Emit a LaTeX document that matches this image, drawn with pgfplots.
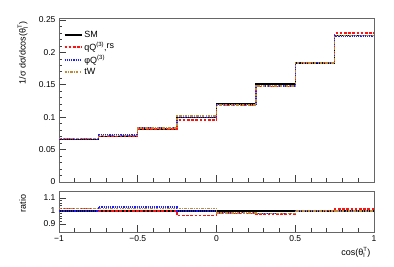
\documentclass[border=0pt]{standalone}
\usepackage{fontspec}
\setmainfont{Liberation Sans}
\usepackage{amsmath}
\usepackage{pgfplots}
\pgfplotsset{compat=1.18}

\definecolor{twcol}{RGB}{190,140,60}
\definecolor{qqcol}{RGB}{250,20,20}
\definecolor{pqcol}{RGB}{30,30,250}

\pgfplotsset{
  rootpad/.style={
    scale only axis, width=315pt,
    xmin=-1, xmax=1,
    axis line style={draw=black!60, line width=0.9pt},
    tick style={black!75, line width=0.6pt},
    tick align=inside,
    xtick pos=bottom, ytick pos=left,
    xtick={-1,-0.5,0,0.5,1},
    minor x tick num=4,
    major tick length=7pt, minor tick length=3.5pt,
    every tick label/.append style={font=\fontsize{8.5}{10}\selectfont},
    label style={font=\fontsize{9}{10}\selectfont},
  },
  histSM/.style={color=black, line width=1.5pt, solid, const plot mark left},
  histQQ/.style={color=qqcol, line width=1.5pt, dash pattern=on 2.6pt off 1.6pt, const plot mark left},
  histPQ/.style={color=pqcol, line width=1.5pt, dash pattern=on 1.2pt off 1pt, const plot mark left},
  histTW/.style={color=twcol, line width=1.5pt, dash pattern=on 2.5pt off 1.2pt on 0.8pt off 1.2pt, const plot mark left},
}

\begin{document}
\begin{tikzpicture}
\useasboundingbox (-59pt,-85pt) rectangle (335pt,182pt);

% upper pad: normalised distribution
\begin{axis}[rootpad,
  at={(0pt,0pt)}, anchor=south west,
  height=164pt,
  ymin=0, ymax=0.253,
  ytick={0,0.05,0.1,0.15,0.2,0.25},
  yticklabels={0,0.05,0.1,0.15,0.2,0.25},
  minor y tick num=4,
  xticklabels={},
  ylabel={1/σ dσ/dcos(θ$^{\text{T}}_{\text{l}}$)},
  ylabel style={at={(axis description cs:-0.115,1)}, anchor=east},
  legend style={draw=none, fill=none, at={(axis description cs:0.005,0.945)},
    anchor=north west, font=\fontsize{9}{10}\selectfont, row sep=-0.8pt},
  legend cell align=left,
]
\addplot[histSM] coordinates {
  (-1,0.0655) (-0.75,0.0705) (-0.5,0.0815) (-0.25,0.0995)
  (0,0.1205) (0.25,0.1510) (0.5,0.1835) (0.75,0.2260) (1,0.2260)};
\addlegendentry{SM}
\addplot[histQQ] coordinates {
  (-1,0.0668) (-0.75,0.0705) (-0.5,0.0815) (-0.25,0.0960)
  (0,0.1183) (0.25,0.1477) (0.5,0.1844) (0.75,0.2298) (1,0.2298)};
\addlegendentry{\textcolor{black}{qQ$^{\text{(3)}}$,\raisebox{2pt}{rs}}}
\addplot[histPQ] coordinates {
  (-1,0.0655) (-0.75,0.0726) (-0.5,0.0839) (-0.25,0.0995)
  (0,0.1193) (0.25,0.1480) (0.5,0.1844) (0.75,0.2249) (1,0.2249)};
\addlegendentry{\textcolor{black}{φQ$^{\text{(3)}}$}}
\addplot[histTW] coordinates {
  (-1,0.0668) (-0.75,0.0719) (-0.5,0.0831) (-0.25,0.1015)
  (0,0.1187) (0.25,0.1480) (0.5,0.1835) (0.75,0.2260) (1,0.2260)};
\addlegendentry{\textcolor{black}{tW}}
\end{axis}

% lower pad: ratio to SM
\begin{axis}[rootpad,
  at={(0pt,-50pt)}, anchor=south west,
  height=41pt,
  ymin=0.838, ymax=1.154,
  ytick={0.9,1,1.1},
  yticklabels={0.9,1,1.1},
  minor y tick num=4,
  xticklabels={−1,−0.5,0,0.5,1},
  xlabel={cos(θ$^{\text{T}}_{\text{l}}$)},
  xlabel style={at={(axis description cs:1,0)}, anchor=north east, yshift=-12pt},
  ylabel={ratio},
  ylabel style={at={(axis description cs:-0.115,1)}, anchor=east},
]
\addplot[histSM] coordinates {(-1,1) (1,1)};
\addplot[histQQ] coordinates {
  (-1,1.020) (-0.75,1.000) (-0.5,1.000) (-0.25,0.965)
  (0,0.982) (0.25,0.978) (0.5,1.005) (0.75,1.017) (1,1.017)};
\addplot[histPQ] coordinates {
  (-1,1.000) (-0.75,1.030) (-0.5,1.030) (-0.25,1.000)
  (0,0.990) (0.25,0.980) (0.5,1.005) (0.75,0.995) (1,0.995)};
\addplot[histTW] coordinates {
  (-1,1.020) (-0.75,1.020) (-0.5,1.020) (-0.25,1.020)
  (0,0.985) (0.25,0.980) (0.5,1.000) (0.75,1.000) (1,1.000)};
\end{axis}
\end{tikzpicture}
\end{document}
